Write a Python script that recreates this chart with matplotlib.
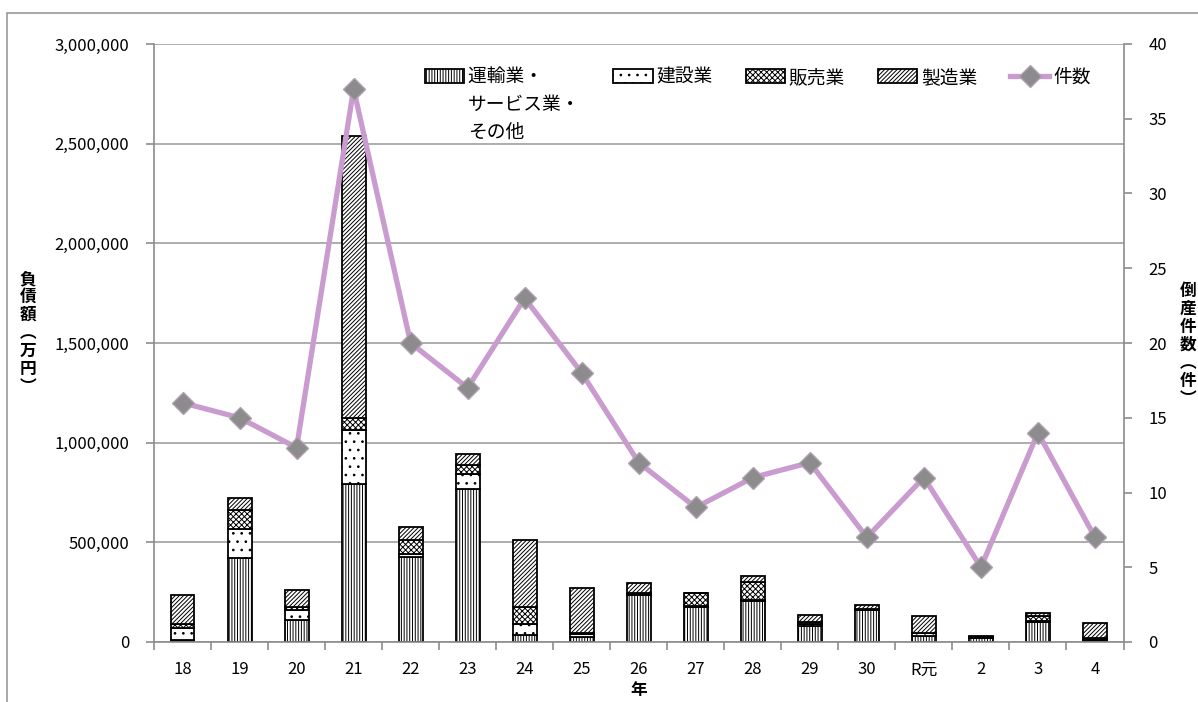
import matplotlib.pyplot as plt
from matplotlib.patches import Rectangle
from matplotlib.ticker import FuncFormatter, FixedLocator
import numpy as np

plt.rcParams['font.family'] = ['Noto Sans CJK JP', 'DejaVu Sans']
plt.rcParams['hatch.linewidth'] = 0.7

# data
years = ['18', '19', '20', '21', '22', '23', '24', '25', '26', '27', '28',
         '29', '30', 'R元', '2', '3', '4']
transport = [10000, 421000, 111000, 791000, 428000, 770000, 33000, 25000, 237000,
             178000, 204000, 78000, 160000, 28000, 20000, 99000, 12000]
construction = [60000, 147000, 50000, 272000, 13000, 75000, 58000, 15000, 5000,
                4000, 5000, 10000, 2000, 17000, 3000, 5000, 5000]
sales = [20000, 95000, 15000, 62000, 70000, 45000, 87000, 5000, 4000,
         64000, 90000, 10000, 2000, 0, 3000, 25000, 3000]
manufacturing = [145000, 57000, 84000, 1413000, 64000, 55000, 335000, 226000, 50000,
                 0, 33000, 38000, 22000, 87000, 6000, 17000, 75000]
counts = [16, 15, 13, 37, 20, 17, 23, 18, 12, 9, 11, 12, 7, 11, 5, 14, 7]

# first label wraps onto extra lines in the reference legend
series = [
    ('運輸業・\u3000\u3000', transport, '||||||'),
    ('建設業', construction, '..'),
    ('販売業', sales, 'xxxxxx'),
    ('製造業', manufacturing, '////////'),
]
extra_lines = ['サービス業・', 'その他']

fig = plt.figure(figsize=(11.98, 7.02), dpi=100)
ax = fig.add_axes([154 / 1198, 1 - 642 / 702, 969.5 / 1198, 598 / 702])
x = np.arange(len(years))

# stacked bars
bottom = np.zeros(len(years))
for label, vals, hatch in series:
    ax.bar(x, vals, width=0.42, bottom=bottom, facecolor='white', edgecolor='black',
           linewidth=1.3, hatch=hatch, label=label, zorder=2)
    bottom += np.array(vals)

ax.set_xlim(-0.5, len(years) - 0.5)
ax.set_ylim(0, 3000000)
ax.set_yticks(np.arange(0, 3000001, 500000))
ax.yaxis.set_major_formatter(FuncFormatter(lambda v, p: f'{int(v):,}'))
ax.grid(axis='y', color='#a0a0a0', linewidth=1.2)
ax.set_axisbelow(True)
ax.set_xticks(x)
ax.set_xticklabels(years)
ax.xaxis.set_minor_locator(FixedLocator(np.arange(-0.5, len(years), 1)))
ax.tick_params(axis='x', which='major', length=0, pad=14, labelsize=12)
ax.tick_params(axis='x', which='minor', length=6, color='#8c8c8c', width=1.2)
ax.tick_params(axis='y', length=6, color='#8c8c8c', width=1.2, labelsize=12, pad=12)
for s in ['top', 'right']:
    ax.spines[s].set_visible(False)
for s in ['left', 'bottom']:
    ax.spines[s].set_color('#8c8c8c')
    ax.spines[s].set_linewidth(1.2)

# count line on right axis
ax2 = ax.twinx()
ax2.plot(x, counts, color='#c99bcf', linewidth=3.8, marker='D', markersize=11,
         markerfacecolor='#8c8c8c', markeredgecolor='#b0a0b0', markeredgewidth=1,
         label='件数', zorder=3)
ax2.set_ylim(0, 40)
ax2.set_yticks(range(0, 41, 5))
ax2.tick_params(axis='y', length=6, color='#8c8c8c', width=1.2, labelsize=12, pad=12)
for s in ['top', 'left', 'bottom']:
    ax2.spines[s].set_visible(False)
ax2.spines['right'].set_color('#8c8c8c')
ax2.spines['right'].set_linewidth(1.2)

# legend
h1, l1 = ax.get_legend_handles_labels()
h2, l2 = ax2.get_legend_handles_labels()
leg = ax2.legend(h1 + h2, l1 + l2, ncol=5, frameon=False, loc='upper left',
                 bbox_to_anchor=(0.262, 0.99), fontsize=13.5, handlelength=2.1,
                 handleheight=0.75, handletextpad=0.2, columnspacing=1.75)

# wrapped continuation of the first legend label
fig.canvas.draw()
bb = leg.get_texts()[0].get_window_extent(fig.canvas.get_renderer())
yc = (bb.y0 + bb.y1) / 2
for i, line in enumerate(extra_lines):
    fig.text(bb.x0 / 1198, (yc - 27.5 * (i + 1)) / 702, line, ha='left', va='center',
             fontsize=13.5)

# axis titles
fig.text(28 / 1198, 1 - 333 / 702, '負\n債\n額\n︵\n万\n円\n︶', ha='center', va='center',
         fontsize=12, fontweight='bold', linespacing=1.0)
fig.text(1188 / 1198, 1 - 345 / 702, '倒\n産\n件\n数\n︵\n件\n︶', ha='center', va='center',
         fontsize=12, fontweight='bold', linespacing=1.0)
fig.text(639 / 1198, 1 - 690 / 702, '年', ha='center', va='center',
         fontsize=12, fontweight='bold')

# outer chart border
fig.add_artist(Rectangle((7 / 1198, -0.1), 1.5, 1 - 13 / 702 + 0.1, transform=fig.transFigure,
                         fill=False, edgecolor='#9a9a9a', linewidth=1.2))

fig.savefig('out.png', dpi=100)
